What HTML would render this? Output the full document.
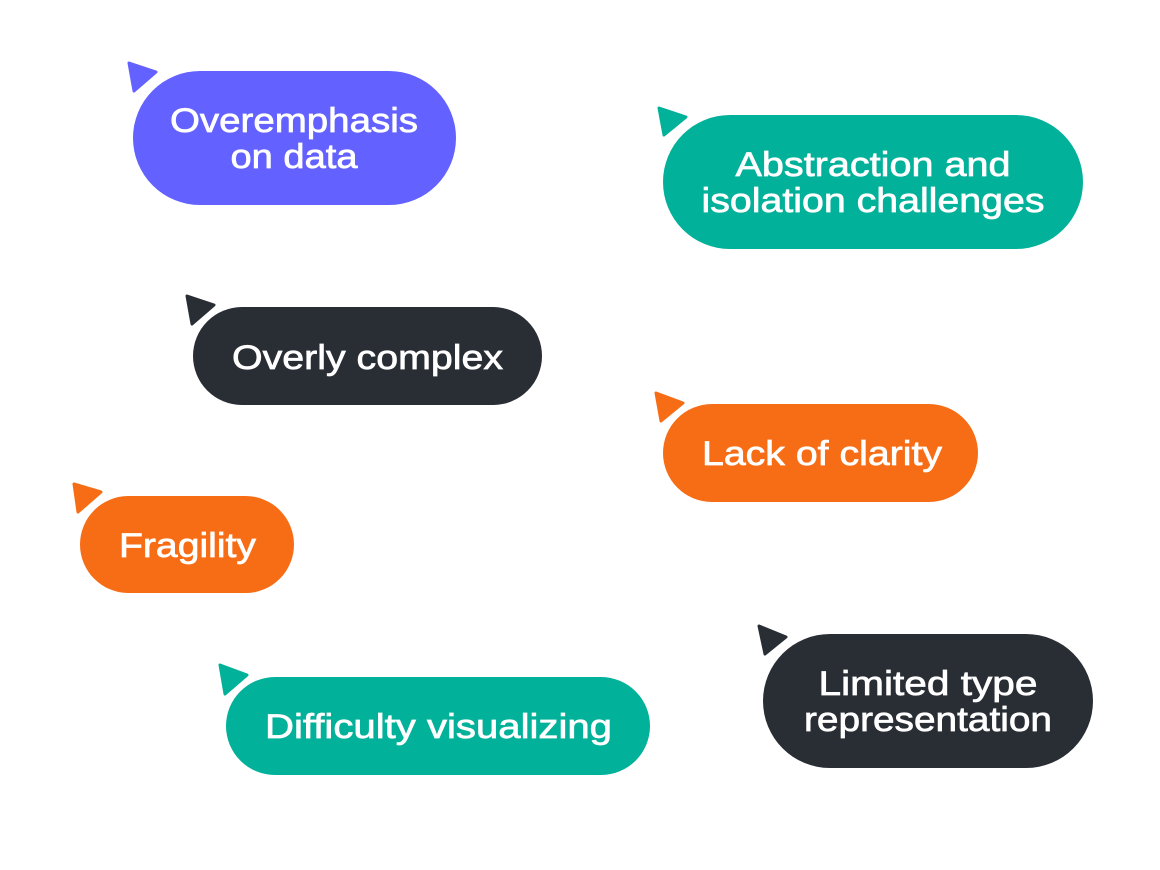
<!DOCTYPE html>
<html>
<head>
<meta charset="utf-8">
<style>
  html,body{margin:0;padding:0;background:#ffffff;}
  svg{display:block;}
  text{font-family:"Liberation Sans",Arial,sans-serif;font-size:34px;fill:#ffffff;stroke:#ffffff;stroke-width:0.7px;}
</style>
</head>
<body>
<svg width="1160" height="870" viewBox="0 0 1160 870" xmlns="http://www.w3.org/2000/svg">
  <rect x="0" y="0" width="1160" height="870" fill="#ffffff"/>

  <!-- Overemphasis on data -->
  <polygon points="129,63 156,72 134,91" fill="#6361FF" stroke="#6361FF" stroke-width="3" stroke-linejoin="round"/>
  <rect x="128" y="66" width="333" height="144" rx="72" fill="#ffffff"/>
  <rect x="133" y="71" width="323" height="134" rx="67" fill="#6361FF"/>
  <text x="294" y="132" text-anchor="middle" textLength="248" lengthAdjust="spacingAndGlyphs">Overemphasis</text>
  <text x="294" y="168" text-anchor="middle" textLength="127" lengthAdjust="spacingAndGlyphs">on data</text>

  <!-- Abstraction and isolation challenges -->
  <polygon points="659,108 686,117 664,135" fill="#02B199" stroke="#02B199" stroke-width="3" stroke-linejoin="round"/>
  <rect x="658" y="110" width="430" height="144" rx="72" fill="#ffffff"/>
  <rect x="663" y="115" width="420" height="134" rx="67" fill="#02B199"/>
  <text x="873" y="176" text-anchor="middle" textLength="275" lengthAdjust="spacingAndGlyphs">Abstraction and</text>
  <text x="873" y="212" text-anchor="middle" textLength="343" lengthAdjust="spacingAndGlyphs">isolation challenges</text>

  <!-- Overly complex -->
  <polygon points="187,296 214,305 192,324" fill="#292D34" stroke="#292D34" stroke-width="3" stroke-linejoin="round"/>
  <rect x="188" y="302" width="359" height="108" rx="54" fill="#ffffff"/>
  <rect x="193" y="307" width="349" height="98" rx="49" fill="#292D34"/>
  <text x="367.5" y="369" text-anchor="middle" textLength="271" lengthAdjust="spacingAndGlyphs">Overly complex</text>

  <!-- Lack of clarity -->
  <polygon points="656,393 683,403 661,421" fill="#F76D16" stroke="#F76D16" stroke-width="3" stroke-linejoin="round"/>
  <rect x="658" y="399" width="325" height="108" rx="54" fill="#ffffff"/>
  <rect x="663" y="404" width="315" height="98" rx="49" fill="#F76D16"/>
  <text x="822" y="465" text-anchor="middle" textLength="240" lengthAdjust="spacingAndGlyphs">Lack of clarity</text>

  <!-- Fragility -->
  <polygon points="74,484 101,492 78,512" fill="#F76D16" stroke="#F76D16" stroke-width="3" stroke-linejoin="round"/>
  <rect x="75" y="491" width="224" height="107" rx="53.5" fill="#ffffff"/>
  <rect x="80" y="496" width="214" height="97" rx="48.5" fill="#F76D16"/>
  <text x="187.5" y="557" text-anchor="middle" textLength="137" lengthAdjust="spacingAndGlyphs">Fragility</text>

  <!-- Difficulty visualizing -->
  <polygon points="220,665 247,675 225,694" fill="#02B199" stroke="#02B199" stroke-width="3" stroke-linejoin="round"/>
  <rect x="221" y="672" width="434" height="108" rx="54" fill="#ffffff"/>
  <rect x="226" y="677" width="424" height="98" rx="49" fill="#02B199"/>
  <text x="438.5" y="738" text-anchor="middle" textLength="347" lengthAdjust="spacingAndGlyphs">Difficulty visualizing</text>

  <!-- Limited type representation -->
  <polygon points="759,626 786,637 765,654" fill="#292D34" stroke="#292D34" stroke-width="3" stroke-linejoin="round"/>
  <rect x="758" y="629" width="340" height="144" rx="72" fill="#ffffff"/>
  <rect x="763" y="634" width="330" height="134" rx="67" fill="#292D34"/>
  <text x="928" y="695" text-anchor="middle" textLength="219" lengthAdjust="spacingAndGlyphs">Limited type</text>
  <text x="928" y="731" text-anchor="middle" textLength="248" lengthAdjust="spacingAndGlyphs">representation</text>
</svg>
</body>
</html>
